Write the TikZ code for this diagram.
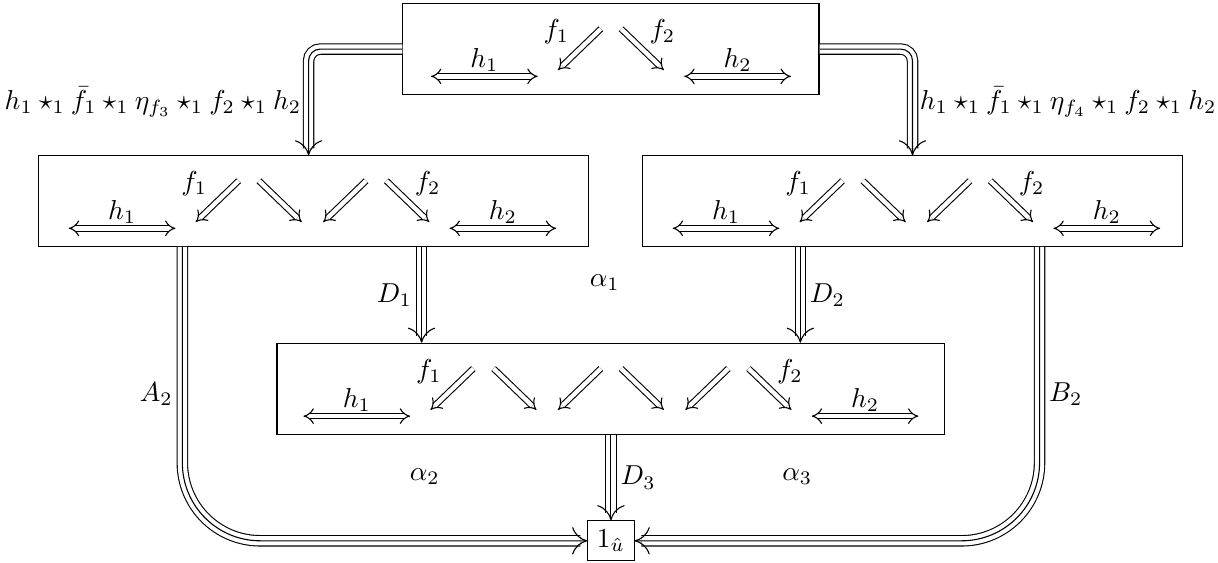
\documentclass[tikz,border=0pt]{standalone}
\usepackage{amsmath,amssymb}
\usetikzlibrary{arrows.meta}

\tikzset{
  cell/.style={draw, line width=0.4pt, inner sep=0pt},
  dbl/.style={double, double distance=1.6pt, line width=0.4pt, -{Implies}},
  dblboth/.style={double, double distance=1.6pt, line width=0.4pt, {Implies}-{Implies}},
  trip/.style={line width=0.4pt, -{Computer Modern Rightarrow[length=5.5pt, width=10pt]},
    preaction={draw, -, double=white, double distance=3.4pt, shorten >=2.5pt}},
}

% zigzag of 2-cells inside a box: name, x, y, number of pairs
\newcommand{\zigzag}[4]{%
  \foreach \i in {1,...,#4}{%
    \pgfmathsetmacro{\cx}{#2+(\i-(#4+1)/2)*1.636}
    \coordinate (#1a\i) at (\cx-0.13,#3+0.26);
    \coordinate (#1b\i) at (\cx-0.68,#3-0.27);
    \coordinate (#1c\i) at (\cx+0.13,#3+0.26);
    \coordinate (#1d\i) at (\cx+0.68,#3-0.27);
    \draw[dbl] (#1a\i) -- (#1b\i);
    \draw[dbl] (#1c\i) -- (#1d\i);
  }
  \pgfmathsetmacro{\lftx}{#2-(#4-1)/2*1.636}
  \pgfmathsetmacro{\rgtx}{#2+(#4-1)/2*1.636}
  \coordinate (#1hs) at (\lftx-2.31,#3-0.35);
  \coordinate (#1he) at (\lftx-0.94,#3-0.35);
  \coordinate (#1ks) at (\rgtx+0.94,#3-0.35);
  \coordinate (#1ke) at (\rgtx+2.31,#3-0.35);
  \draw[dblboth] (#1hs) -- node[above, inner sep=1.5pt] (#1hl) {$h_1$} (#1he);
  \draw[dblboth] (#1ks) -- node[above, inner sep=1.5pt] (#1kl) {$h_2$} (#1ke);
  \node (#1f) at (\lftx-0.70,#3+0.22) {$f_1$};
  \node (#1g) at (\rgtx+0.66,#3+0.22) {$f_2$};
}

\begin{document}
\begin{tikzpicture}
\useasboundingbox (0,0) rectangle (15.63,7.22);

% Boxes
\node[cell, minimum width=5.34cm, minimum height=1.17cm] (top) at (7.84,6.59) {};
\node[cell, minimum width=7.06cm, minimum height=1.16cm] (lft) at (4.02,4.64) {};
\node[cell, minimum width=6.93cm, minimum height=1.16cm] (rgt) at (11.71,4.64) {};
\node[cell, minimum width=8.57cm, minimum height=1.17cm] (bot) at (7.84,2.23) {};
\node[draw] (unit) at (7.84,0.28) {$1_{\hat{u}}$};

% Contents of the boxes
\zigzag{t}{7.84}{6.59}{1}
\zigzag{l}{4.01}{4.64}{2}
\zigzag{r}{11.76}{4.64}{2}
\zigzag{b}{7.84}{2.23}{3}

% Feet of the vertical connectors
\coordinate (d1) at ([xshift=1.39cm]lft.south);
\coordinate (d2) at ([xshift=-1.44cm]rgt.south);
\coordinate (a2) at ([xshift=-1.68cm]lft.south);
\coordinate (b2) at ([xshift=1.63cm]rgt.south);

% Connectors
\draw[trip, rounded corners=0.15cm] (top.west) -| node[pos=0.75, left, inner sep=2.5pt] (lab1)
  {$h_1 \star_1 \bar{f}_1 \star_1 \eta_{f_3} \star_1 f_2 \star_1 h_2$} ([xshift=-0.06cm]lft.north);
\draw[trip, rounded corners=0.15cm] (top.east) -| node[pos=0.75, right, inner sep=2.5pt] (lab2)
  {$h_1 \star_1 \bar{f}_1 \star_1 \eta_{f_4} \star_1 f_2 \star_1 h_2$} (rgt.north);
\draw[trip] (d1) -- node[left] (labd1) {$D_1$} (d1 |- bot.north);
\draw[trip] (d2) -- node[right] (labd2) {$D_2$} (d2 |- bot.north);
\draw[trip, rounded corners=1cm] (a2) |- node[pos=0.25, left] (laba) {$A_2$} (unit.west);
\draw[trip, rounded corners=1cm] (b2) |- node[pos=0.25, right] (labb) {$B_2$} (unit.east);
\draw[trip] (bot.south) -- node[right] (labd3) {$D_3$} (unit.north);

% 3-cells
\node (al1) at (7.76,3.59) {$\alpha_1$};
\node (al2) at (5.45,1.10) {$\alpha_2$};
\node (al3) at (10.23,1.10) {$\alpha_3$};

\end{tikzpicture}
\end{document}
